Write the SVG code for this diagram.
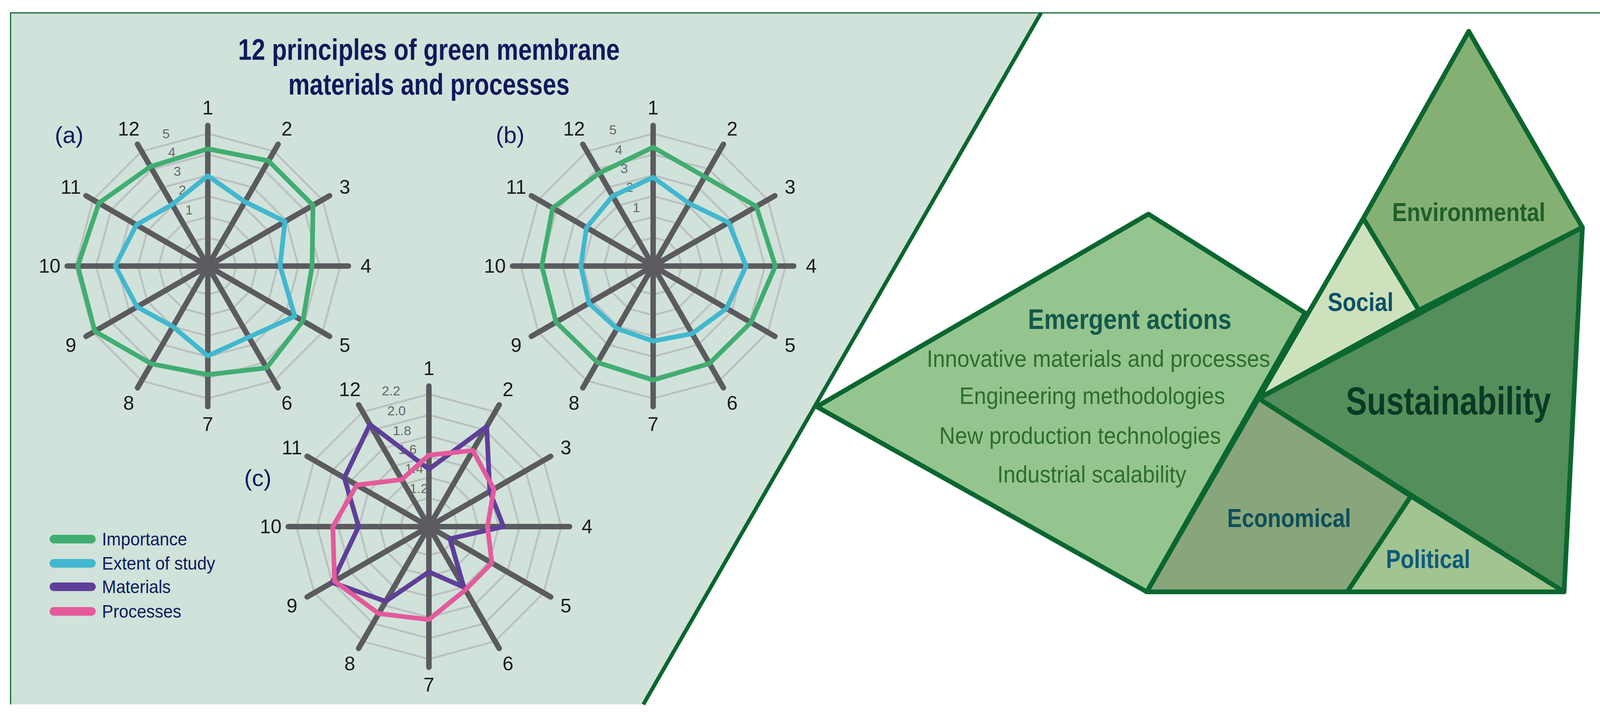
<svg xmlns="http://www.w3.org/2000/svg" xmlns:xlink="http://www.w3.org/1999/xlink" width="4170" height="1843" viewBox="0 0 4170 1843">
<style>
.t{font-family:"Liberation Sans Narrow","Liberation Sans",Arial,sans-serif}
.ax{stroke:#5b5b5f;stroke-width:14;stroke-linecap:round}
.ring{fill:none;stroke:#bcc0c0;stroke-width:5;vector-effect:non-scaling-stroke}
.lbl{font-size:50px;fill:#1a1a1a;text-anchor:middle;dominant-baseline:central}
.rl{font-size:34px;fill:#666;text-anchor:middle;dominant-baseline:central}
.d{fill:none;stroke-width:12;stroke-linejoin:round}
.pl{font-size:60px;fill:#0b1a5e;text-anchor:middle;dominant-baseline:central}
.leg{font-size:46px;fill:#0b1a5e}
.sh{stroke:#0b6630;stroke-width:12;stroke-linejoin:round}
</style>
<defs>
<polygon id="ring" class="ring" points="0,-100 50,-86.6 86.6,-50 100,0 86.6,50 50,86.6 0,100 -50,86.6 -86.6,50 -100,0 -86.6,-50 -50,-86.6"/>
<g id="grid">
<use xlink:href="#ring" transform="scale(0.73)"/>
<use xlink:href="#ring" transform="scale(1.26)"/>
<use xlink:href="#ring" transform="scale(1.79)"/>
<use xlink:href="#ring" transform="scale(2.32)"/>
<use xlink:href="#ring" transform="scale(2.86)"/>
<use xlink:href="#ring" transform="scale(3.39)"/>
<line class="ax" x1="0" y1="-360" x2="0" y2="360"/>
<line class="ax" x1="0" y1="-360" x2="0" y2="360" transform="rotate(30)"/>
<line class="ax" x1="0" y1="-360" x2="0" y2="360" transform="rotate(60)"/>
<line class="ax" x1="0" y1="-360" x2="0" y2="360" transform="rotate(90)"/>
<line class="ax" x1="0" y1="-360" x2="0" y2="360" transform="rotate(120)"/>
<line class="ax" x1="0" y1="-360" x2="0" y2="360" transform="rotate(150)"/>
<g class="t lbl">
<text x="0" y="-405">1</text><text x="202.5" y="-350.7">2</text><text x="350.7" y="-202.5">3</text>
<text x="405" y="0">4</text><text x="350.7" y="202.5">5</text><text x="202.5" y="350.7">6</text>
<text x="0" y="405">7</text><text x="-202.5" y="350.7">8</text><text x="-350.7" y="202.5">9</text>
<text x="-405" y="0">10</text><text x="-350.7" y="-202.5">11</text><text x="-202.5" y="-350.7">12</text>
</g>
</g>
</defs>
<rect width="4170" height="1843" fill="#fff"/>
<polygon points="27,33 2665,33 1647,1803 27,1803" fill="#d1e2da"/>
<polyline points="27,1803 27,33 4130,33" fill="none" stroke="#0b6630" stroke-width="3"/>
<line x1="2665" y1="33" x2="1647" y2="1803" stroke="#0b6630" stroke-width="10"/>

<g id="title" class="t" font-weight="bold" font-size="76" fill="#0d1a5c" text-anchor="middle">
<text x="1098" y="153" textLength="977" lengthAdjust="spacingAndGlyphs">12 principles of green membrane</text>
<text x="1098" y="242" textLength="720" lengthAdjust="spacingAndGlyphs">materials and processes</text>
</g>

<g id="chart-a" transform="translate(532,681)">
<use xlink:href="#grid"/>
<g class="t rl"><text x="-107" y="-339">5</text><text x="-92" y="-292">4</text><text x="-78" y="-243">3</text><text x="-65" y="-195">2</text><text x="-48" y="-144">1</text></g>
<polygon class="d" stroke="#41ad72" points="0,-300 155.5,-269.3 269.3,-155.5 267,0 243.3,140.5 150.5,260.7 0,278 -144.5,250.3 -289.2,167 -333,0 -278.9,-161 -147,-254.6"/>
<polygon class="d" stroke="#41b8cf" points="0,-231 95,-164.5 197.4,-114 185,0 222.6,128.5 105,181.9 0,230 -89.5,155 -181,104.5 -237,0 -182.7,-105.5 -91,-157.6"/>
<text class="t pl" x="-355" y="-336">(a)</text>
</g>

<g id="chart-b" transform="translate(1672,681)">
<use xlink:href="#grid"/>
<g class="t rl"><text x="-103" y="-349">5</text><text x="-88" y="-298">4</text><text x="-74" y="-250">3</text><text x="-60" y="-202">2</text><text x="-43" y="-150">1</text></g>
<polygon class="d" stroke="#41ad72" points="0,-304 132,-228.6 264.1,-152.5 313,0 250.3,144.5 144,249.4 0,292 -142.5,246.8 -248.5,143.5 -285,0 -257.2,-148.5 -137.5,-238.2"/>
<polygon class="d" stroke="#41b8cf" points="0,-227 92.5,-160.2 193.1,-111.5 238,0 187.9,108.5 100,173.2 0,192 -92.5,160.2 -164.5,95 -185,0 -170.6,-98.5 -103.5,-179.3"/>
<text class="t pl" x="-366" y="-336">(b)</text>
</g>

<g id="chart-c" transform="translate(1098,1348)">
<use xlink:href="#grid"/>
<g class="t rl"><text x="-97" y="-348">2.2</text><text x="-83" y="-297">2.0</text><text x="-69" y="-246">1.8</text><text x="-55" y="-198">1.6</text><text x="-38" y="-149">1.4</text><text x="-26" y="-98">1.2</text></g>
<polygon class="d" stroke="#5e3f99" points="0,-147 148,-256.3 155.9,-90 191,0 53.7,31 89.5,155 0,116 -110.5,191.4 -247.7,143 -180,0 -216.5,-125 -151,-261.5"/>
<polygon class="d" stroke="#e45a9c" points="0,-183 112.5,-194.9 166.3,-96 150,0 161.1,93 93.5,161.9 0,238 -128.5,222.6 -241.6,139.5 -246,0 -184.5,-106.5 -69.5,-120.4"/>
<text class="t pl" x="-438" y="-125">(c)</text>
</g>

<g id="legend" class="t">
<g stroke-width="22" stroke-linecap="round">
<line x1="138" y1="1380" x2="234" y2="1380" stroke="#41ad72"/>
<line x1="138" y1="1442" x2="234" y2="1442" stroke="#41b8cf"/>
<line x1="138" y1="1502" x2="234" y2="1502" stroke="#5e3f99"/>
<line x1="138" y1="1565" x2="234" y2="1565" stroke="#e45a9c"/>
</g>
<g class="leg" dominant-baseline="central">
<text x="261" y="1380" textLength="218" lengthAdjust="spacingAndGlyphs">Importance</text>
<text x="261" y="1442" textLength="290" lengthAdjust="spacingAndGlyphs">Extent of study</text>
<text x="261" y="1502" textLength="176" lengthAdjust="spacingAndGlyphs">Materials</text>
<text x="261" y="1565" textLength="203" lengthAdjust="spacingAndGlyphs">Processes</text>
</g>
</g>

<g id="emergent">
<polygon class="sh" fill="#95c58f" points="2091,1041 2940,548 3341,801 2936,1515"/>
<g class="t" text-anchor="middle">
<text x="2892" y="842" font-size="72" font-weight="bold" fill="#14584a" textLength="521" lengthAdjust="spacingAndGlyphs">Emergent actions</text>
<g font-size="62" fill="#2d6d2d">
<text x="2812" y="939" textLength="879" lengthAdjust="spacingAndGlyphs">Innovative materials and processes</text>
<text x="2796" y="1034" textLength="680" lengthAdjust="spacingAndGlyphs">Engineering methodologies</text>
<text x="2765" y="1136" textLength="721" lengthAdjust="spacingAndGlyphs">New production technologies</text>
<text x="2795" y="1235" textLength="484" lengthAdjust="spacingAndGlyphs">Industrial scalability</text>
</g>
</g>
</g>
<g id="environmental">
<polygon class="sh" fill="#85b074" points="3760,80 4051,582 3632,794 3490,559"/>
<text class="t" x="3760" y="566" text-anchor="middle" font-size="66" font-weight="bold" fill="#1f5f2a" textLength="392" lengthAdjust="spacingAndGlyphs">Environmental</text>
</g>
<g id="social">
<polygon class="sh" fill="#cde2bc" points="3490,559 3632,794 3222,1020"/>
<text class="t" x="3483" y="796" text-anchor="middle" font-size="66" font-weight="bold" fill="#0d5066" textLength="168" lengthAdjust="spacingAndGlyphs">Social</text>
</g>
<g id="sustainability">
<polygon class="sh" fill="#548e5a" points="4051,582 3222,1020 4004,1515"/>
<text class="t" x="3708" y="1061" text-anchor="middle" font-size="100" font-weight="bold" fill="#0a3a25" textLength="525" lengthAdjust="spacingAndGlyphs">Sustainability</text>
</g>
<g id="economical">
<polygon class="sh" fill="#89a57c" points="3222,1020 3612,1270 3449,1515 2936,1515"/>
<text class="t" x="3300" y="1349" text-anchor="middle" font-size="66" font-weight="bold" fill="#0e4f5a" textLength="317" lengthAdjust="spacingAndGlyphs">Economical</text>
</g>
<g id="political">
<polygon class="sh" fill="#a1c491" points="3612,1270 4004,1515 3449,1515"/>
<text class="t" x="3656" y="1454" text-anchor="middle" font-size="66" font-weight="bold" fill="#0d5a78" textLength="216" lengthAdjust="spacingAndGlyphs">Political</text>
</g>
<g id="connectors"/>
</svg>
